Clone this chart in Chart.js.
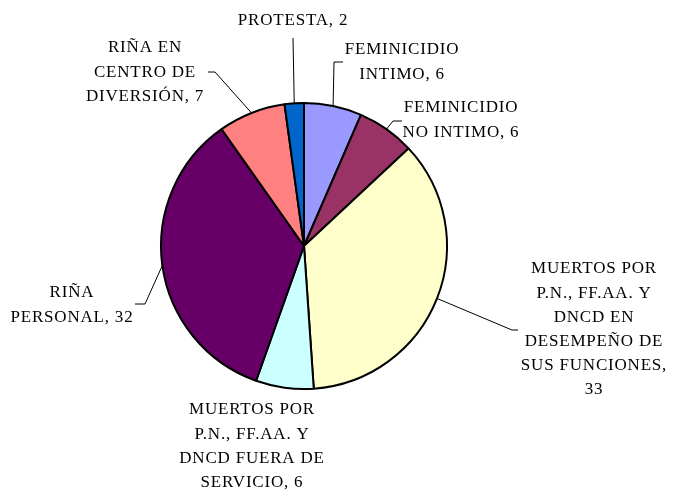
<!DOCTYPE html>
<html>
<head>
<meta charset="utf-8">
<script src="https://cdn.jsdelivr.net/npm/chart.js@4.4.0/dist/chart.umd.min.js"></script>
<style>
  html, body { margin: 0; padding: 0; background: #fff; }
  #wrap { width: 674px; height: 490px; }
</style>
</head>
<body>
<div id="wrap"><canvas id="pieChart" width="674" height="490"></canvas></div>
<script>
// Datos: categorias (con saltos de linea de la etiqueta) y valores
const categorias = [
    'FEMINICIDIO\nINTIMO',
    'FEMINICIDIO\nNO INTIMO',
    'MUERTOS POR\nP.N., FF.AA. Y\nDNCD EN\nDESEMPEÑO DE\nSUS FUNCIONES',
    'MUERTOS POR\nP.N., FF.AA. Y\nDNCD FUERA DE\nSERVICIO',
    'RIÑA\nPERSONAL',
    'RIÑA EN\nCENTRO DE\nDIVERSIÓN',
    'PROTESTA'
];
const valores = [6, 6, 33, 6, 32, 7, 2];
const colores = ['#9999FF', '#993366', '#FFFFCC', '#CCFFFF', '#660066', '#FF8080', '#0066CC'];

// Posicion de cada etiqueta: centro del texto, primera linea, codo de la guia
const etiquetas = [
    { x: 402, y: 50, codo: [334, 62], fin: [343, 62] },
    { x: 461, y: 108, codo: [393, 121], fin: [402, 121] },
    { x: 594, y: 269, codo: [512, 330], fin: [518, 330], valorAparte: true },
    { x: 252, y: 410 },
    { x: 72, y: 293, codo: [145, 304], fin: [135, 304] },
    { x: 145, y: 48, codo: [215, 72], fin: [208, 72] },
    { x: 293, y: 21, fin: [293, 38] }
];

const interlineado = 24.2;

const etiquetasPlugin = {
    id: 'etiquetas',
    afterDatasetsDraw(chart) {
        const ctx = chart.ctx;
        const meta = chart.getDatasetMeta(0);
        ctx.save();
        ctx.strokeStyle = '#000';
        ctx.lineWidth = 1;
        ctx.fillStyle = '#000';
        ctx.font = '17px "Liberation Serif", serif';
        if ('letterSpacing' in ctx) ctx.letterSpacing = '0.8px';
        ctx.textAlign = 'center';
        ctx.textBaseline = 'middle';
        meta.data.forEach((arc, i) => {
            const e = etiquetas[i];
            const p = arc.getProps(['x', 'y', 'startAngle', 'endAngle', 'outerRadius'], true);
            const mid = (p.startAngle + p.endAngle) / 2;
            const bx = p.x + Math.cos(mid) * p.outerRadius;
            const by = p.y + Math.sin(mid) * p.outerRadius;
            if (e.fin) {
                ctx.beginPath();
                ctx.moveTo(bx, by);
                if (e.codo) ctx.lineTo(e.codo[0], e.codo[1]);
                ctx.lineTo(e.fin[0], e.fin[1]);
                ctx.stroke();
            }
            let texto = categorias[i] + ',' + (e.valorAparte ? '\n' : ' ') + valores[i];
            texto.split('\n').forEach((linea, k) => {
                ctx.fillText(linea, e.x, e.y + k * interlineado);
            });
        });
        ctx.restore();
    }
};

const ctx = document.getElementById('pieChart').getContext('2d');
new Chart(ctx, {
    type: 'pie',
    data: {
        labels: categorias,
        datasets: [{
            data: valores,
            backgroundColor: colores,
            borderColor: '#000',
            borderWidth: 2,
            radius: 143
        }]
    },
    options: {
        responsive: false,
        animation: false,
        layout: { padding: { left: 0, right: 66, top: 2, bottom: 0 } },
        plugins: {
            legend: { display: false },
            tooltip: { enabled: false }
        }
    },
    plugins: [etiquetasPlugin]
});
</script>
</body>
</html>
